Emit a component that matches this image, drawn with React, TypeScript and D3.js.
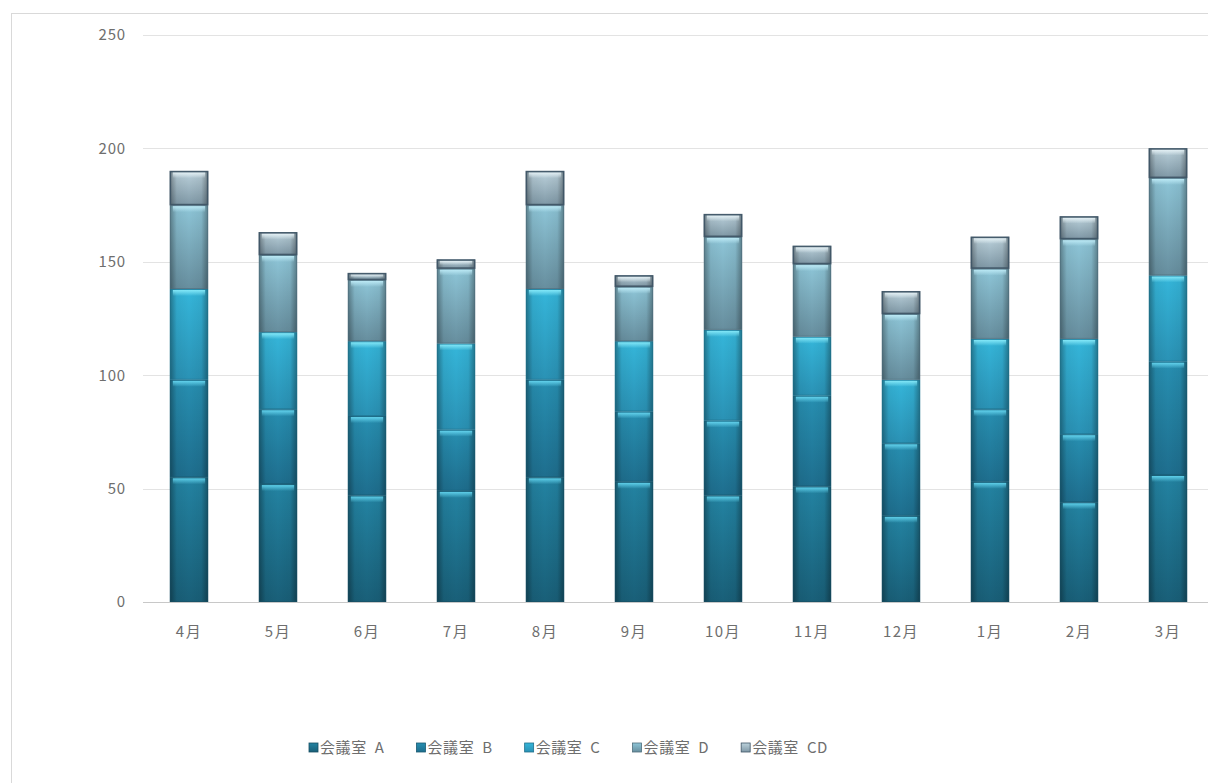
import React, { useEffect, useRef } from 'react';
import * as d3 from 'd3';

// 月別・会議室別の利用回数
const months = ['4月', '5月', '6月', '7月', '8月', '9月', '10月', '11月', '12月', '1月', '2月', '3月'];
const seriesNames = ['会議室 A', '会議室 B', '会議室 C', '会議室 D', '会議室 CD'];
const roomA = [55, 52, 47, 49, 55, 53, 47, 51, 38, 53, 44, 56];
const roomB = [43, 33, 35, 27, 43, 31, 33, 40, 32, 32, 30, 50];
const roomC = [40, 34, 33, 38, 40, 31, 40, 26, 28, 31, 42, 38];
const roomD = [37, 34, 27, 33, 37, 24, 41, 32, 29, 31, 44, 43];
const roomCD = [15, 10, 3, 4, 15, 5, 10, 8, 10, 14, 10, 13];
const yTicks = [0, 50, 100, 150, 200, 250];

// body top / body bottom / highlight / outline
const palette = [
  { top: '#2383a2', bottom: '#195f78', hi: '#5fd0ea', stroke: '#174f63' },
  { top: '#278fb1', bottom: '#1e6e8e', hi: '#64d4ee', stroke: '#195a72' },
  { top: '#35b6da', bottom: '#2a92b5', hi: '#84e8f8', stroke: '#1f6f8a' },
  { top: '#8ec6d8', bottom: '#678e9e', hi: '#bce9f5', stroke: '#4e6d7b' },
  { top: '#bcd2dc', bottom: '#7f98a6', hi: '#e6f2f6', stroke: '#3f5566' },
];

const W = 1208;
const H = 783;
const margin = { top: 35, left: 144.5, right: 1212.5, bottom: 602 };

export default function App() {
  const ref = useRef<SVGSVGElement>(null);

  useEffect(() => {
    if (!ref.current) return;
    const root = d3.select(ref.current);
    root.selectAll('*').remove();

    const font = '"Noto Sans CJK JP", "Noto Sans", sans-serif';
    const labelColor = '#6e6e6e';
    const table = months.map((m, i) => ({
      month: m,
      [seriesNames[0]]: roomA[i],
      [seriesNames[1]]: roomB[i],
      [seriesNames[2]]: roomC[i],
      [seriesNames[3]]: roomD[i],
      [seriesNames[4]]: roomCD[i],
    })) as any[];

    const stacked = d3.stack<any>().keys(seriesNames)(table);

    const x = d3
      .scaleBand<string>()
      .domain(months)
      .range([margin.left, margin.right])
      .paddingInner(0.57)
      .paddingOuter(0.285);
    const y = d3.scaleLinear().domain([0, 250]).range([margin.bottom, margin.top]);

    const defs = root.append('defs');
    palette.forEach((p, k) => {
      const g = defs
        .append('linearGradient')
        .attr('id', `body${k}`)
        .attr('x1', 0)
        .attr('y1', 0)
        .attr('x2', 0)
        .attr('y2', 1);
      g.append('stop').attr('offset', 0).attr('stop-color', p.top);
      g.append('stop').attr('offset', 1).attr('stop-color', p.bottom);

      const h = defs
        .append('linearGradient')
        .attr('id', `hi${k}`)
        .attr('x1', 0)
        .attr('y1', 0)
        .attr('x2', 0)
        .attr('y2', 1);
      h.append('stop').attr('offset', 0).attr('stop-color', p.hi).attr('stop-opacity', 1);
      h.append('stop').attr('offset', 1).attr('stop-color', p.hi).attr('stop-opacity', 0);
    });
    const shade = defs.append('linearGradient').attr('id', 'shade');
    [
      [0, 0.35],
      [0.18, 0.05],
      [0.5, 0],
      [0.82, 0.05],
      [1, 0.35],
    ].forEach(([o, a]) =>
      shade.append('stop').attr('offset', o).attr('stop-color', '#000').attr('stop-opacity', a)
    );

    // chart frame
    root
      .append('rect')
      .attr('x', 11.5)
      .attr('y', 13.5)
      .attr('width', 1300)
      .attr('height', 900)
      .attr('fill', '#fff')
      .attr('stroke', '#d9d9d9');

    // grid
    root
      .append('g')
      .selectAll('line')
      .data(yTicks)
      .join('line')
      .attr('x1', 143)
      .attr('x2', W)
      .attr('y1', (d) => Math.round(y(d)) + 0.5)
      .attr('y2', (d) => Math.round(y(d)) + 0.5)
      .attr('stroke', (d) => (d === 0 ? '#c8c8c8' : '#e3e3e3'))
      .attr('stroke-width', 1);

    root
      .append('g')
      .attr('transform', 'translate(126,0)')
      .call(d3.axisLeft(y).tickValues(yTicks).tickSize(0).tickPadding(0))
      .call((g) => g.select('.domain').remove())
      .selectAll('text')
      .attr('fill', labelColor)
      .style('font-family', font)
      .style('font-size', '15px')
      .style('letter-spacing', '0.8px');

    root
      .append('g')
      .attr('transform', `translate(0,${margin.bottom + 18})`)
      .call(d3.axisBottom(x).tickSize(0).tickPadding(6))
      .call((g) => g.select('.domain').remove())
      .selectAll('text')
      .attr('fill', labelColor)
      .style('font-family', font)
      .style('font-size', '15px')
      .style('letter-spacing', '1.5px');

    const bw = x.bandwidth();
    stacked.forEach((layer, k) => {
      const p = palette[k];
      const g = root.append('g');
      const seg = g
        .selectAll('g')
        .data(layer)
        .join('g')
        .attr('transform', (d: any) => `translate(${x(d.data.month)},${y(d[1])})`);
      const hgt = (d: any) => Math.max(0, y(d[0]) - y(d[1]));
      seg
        .append('rect')
        .attr('width', bw)
        .attr('height', hgt)
        .attr('fill', `url(#body${k})`);
      seg
        .append('rect')
        .attr('width', bw)
        .attr('height', hgt)
        .attr('fill', 'url(#shade)');
      seg
        .append('rect')
        .attr('x', 3)
        .attr('y', 1)
        .attr('width', bw - 6)
        .attr('height', (d: any) => Math.min(6, hgt(d) * 0.5))
        .attr('fill', `url(#hi${k})`);
      seg
        .append('rect')
        .attr('x', 0.5)
        .attr('y', 0.5)
        .attr('width', bw - 1)
        .attr('height', (d: any) => Math.max(0, hgt(d) - 1))
        .attr('fill', 'none')
        .attr('stroke', p.stroke)
        .attr('stroke-opacity', k === 4 ? 0.95 : 0.6)
        .attr('stroke-width', k === 4 ? 1.6 : 1);
    });

    // legend
    const legend = root.append('g').attr('transform', 'translate(309,748)');
    let cx = 0;
    seriesNames.forEach((name, k) => {
      const item = legend.append('g').attr('transform', `translate(${cx},0)`);
      item
        .append('rect')
        .attr('x', 0)
        .attr('y', -5)
        .attr('width', 9)
        .attr('height', 9)
        .attr('fill', `url(#body${k})`)
        .attr('stroke', palette[k].stroke)
        .attr('stroke-width', 0.8);
      const t = item
        .append('text')
        .attr('x', 11)
        .attr('y', 0)
        .attr('dy', '0.35em')
        .attr('fill', labelColor)
        .style('font-family', font)
        .style('font-size', '15px')
        .style('letter-spacing', '0.6px')
        .style('white-space', 'pre')
        .text(name.replace(' ', '  '));
      const tw = (t.node() as SVGTextElement).getComputedTextLength();
      cx += 11 + tw + 32;
    });
  }, []);

  return (
    <div style={{ position: 'absolute', left: 0, top: 0 }}>
      <svg ref={ref} width={W} height={H} style={{ display: 'block' }} />
    </div>
  );
}
